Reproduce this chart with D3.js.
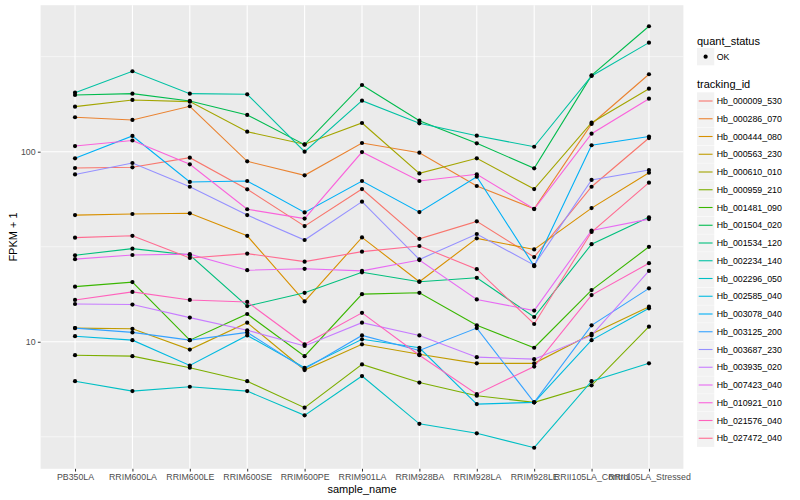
<!DOCTYPE html>
<html><head><meta charset="utf-8">
<script src="https://cdn.jsdelivr.net/npm/d3@7"></script>
<style>
body{margin:0;background:#fff}
svg{display:block}
text{font-family:"Liberation Sans",Arial,Helvetica,sans-serif}
</style>
</head><body>
<svg id="chart" width="800" height="500"></svg>
<script>
// ---------- data ----------
const samples = ["PB350LA","RRIM600LA","RRIM600LE","RRIM600SE","RRIM600PE","RRIM901LA","RRIM928BA","RRIM928LA","RRIM928LE","RRII105LA_Control","RRII105LA_Stressed"];
const trackingIds = ["Hb_000009_530","Hb_000286_070","Hb_000444_080","Hb_000563_230","Hb_000610_010","Hb_000959_210","Hb_001481_090","Hb_001504_020","Hb_001534_120","Hb_002234_140","Hb_002296_050","Hb_002585_040","Hb_003078_040","Hb_003125_200","Hb_003687_230","Hb_003935_020","Hb_007423_040","Hb_010921_010","Hb_021576_040","Hb_027472_040"];
const quantStatus = ["OK"];
const yMajorTicks = [10, 100];
const yMajorLabels = ["10", "100"];
const yMinorTicks = [3.1623, 31.623, 316.23];

const hb000009_530 = [82.1, 82.8, 93.0, 63.4, 40.6, 63.6, 34.8, 43.0, 27.9, 65.4, 118];
const hb000286_070 = [151.8, 146.9, 173.4, 89.0, 75.1, 111.1, 98.8, 66.0, 50.1, 139.9, 255.5];
const hb000444_080 = [46.4, 47.0, 47.4, 36.1, 16.3, 35.4, 20.7, 35.0, 30.6, 50.5, 77.5];
const hb000563_230 = [11.8, 11.7, 9.1, 12.6, 7.1, 9.7, 8.6, 7.7, 7.7, 11.0, 15.3];
const hb000610_010 = [172.6, 187.2, 183.4, 127.4, 109.4, 141.6, 76.9, 92.3, 63.6, 142.1, 214.6];
const hb000959_210 = [8.5, 8.4, 7.3, 6.2, 4.5, 7.6, 6.1, 5.2, 4.8, 5.9, 12.0];
const hb001481_090 = [19.5, 20.6, 10.2, 14.0, 8.4, 17.8, 18.1, 12.2, 9.3, 18.7, 31.6];
const hb001504_020 = [198.8, 202, 184.9, 156.1, 108.9, 224.4, 145.6, 110.7, 81.8, 252, 457];
const hb001534_120 = [28.5, 30.9, 28.6, 15.4, 18.1, 23.2, 20.7, 21.7, 13.5, 32.6, 45.2];
const hb002234_140 = [204.5, 265, 202, 200.5, 100, 185.5, 141, 121.4, 106.2, 250.3, 374.8];
const hb002296_050 = [6.2, 5.5, 5.8, 5.5, 4.1, 6.6, 3.7, 3.3, 2.77, 6.2, 7.7];
const hb002585_040 = [10.7, 10.2, 7.5, 10.8, 7.3, 10.3, 9.3, 4.7, 4.8, 10.2, 15.0];
const hb003078_040 = [92.3, 121, 69.3, 70.1, 47.9, 70.1, 48.1, 73.9, 25.0, 108.1, 120.2];
const hb003125_200 = [11.8, 11.2, 10.2, 11.2, 7.2, 10.8, 9.0, 11.8, 4.8, 12.2, 19.1];
const hb003687_230 = [75.9, 87.2, 65.4, 46.4, 34.3, 54.6, 27.1, 36.9, 25.3, 71.0, 80.1];
const hb003935_020 = [15.8, 15.7, 13.4, 11.5, 9.5, 12.6, 10.8, 8.3, 8.1, 10.8, 23.6];
const hb007423_040 = [27.2, 28.6, 28.9, 23.8, 24.2, 23.6, 26.9, 16.7, 14.6, 38.5, 44.2];
const hb010921_010 = [107.1, 114.5, 85.8, 49.8, 44.5, 99.6, 70.1, 76.1, 49.9, 124.4, 190.1];
const hb021576_040 = [16.6, 18.3, 16.6, 16.2, 9.7, 14.2, 8.5, 5.3, 7.4, 17.6, 25.9];
const hb027472_040 = [35.3, 36.1, 27.6, 29.1, 26.4, 29.8, 31.9, 24.1, 12.4, 37.8, 68.7];

const seriesValues = [hb000009_530, hb000286_070, hb000444_080, hb000563_230, hb000610_010, hb000959_210, hb001481_090, hb001504_020, hb001534_120, hb002234_140, hb002296_050, hb002585_040, hb003078_040, hb003125_200, hb003687_230, hb003935_020, hb007423_040, hb010921_010, hb021576_040, hb027472_040];

// ggplot2 hue palette (20 levels)
const palette = ["#F8766D","#EA8331","#D89000","#C09B00","#A3A500","#7CAE00","#39B600","#00BB4E","#00BF7D","#00C1A3","#00BFC4","#00BAE0","#00B0F6","#35A2FF","#9590FF","#C77CFF","#E76BF3","#FA62DB","#FF62BC","#FF6C91"];

// ---------- layout ----------
const panel = {left: 40.6, right: 683.4, top: 5.2, bottom: 468.8};
const svg = d3.select("#chart");
svg.append("rect").attr("width", 800).attr("height", 500).attr("fill", "#fff");

const series = trackingIds.map((id, i) => ({
  id, color: palette[i],
  points: samples.map((s, j) => ({sample: s, value: seriesValues[i][j]}))
}));

const x = d3.scalePoint().domain(samples).range([panel.left, panel.right]).padding(0.6);

const allVals = seriesValues.flat();
const lmin = Math.log10(d3.min(allVals)), lmax = Math.log10(d3.max(allVals));
const ex = (lmax - lmin) * 0.05;
const y = d3.scaleLog().domain([Math.pow(10, lmin - ex), Math.pow(10, lmax + ex)]).range([panel.bottom, panel.top]);

// panel background
svg.append("rect").attr("x", panel.left).attr("y", panel.top)
  .attr("width", panel.right - panel.left).attr("height", panel.bottom - panel.top)
  .attr("fill", "#EBEBEB");

const grid = svg.append("g");
grid.selectAll("line.minor").data(yMinorTicks.filter(v => v > y.domain()[0] && v < y.domain()[1])).join("line")
  .attr("x1", panel.left).attr("x2", panel.right)
  .attr("y1", d => y(d)).attr("y2", d => y(d))
  .attr("stroke", "#fff").attr("stroke-width", 0.55);
grid.selectAll("line.majory").data(yMajorTicks).join("line")
  .attr("x1", panel.left).attr("x2", panel.right)
  .attr("y1", d => y(d)).attr("y2", d => y(d))
  .attr("stroke", "#fff").attr("stroke-width", 1.1);
grid.selectAll("line.majorx").data(samples).join("line")
  .attr("x1", d => x(d)).attr("x2", d => x(d))
  .attr("y1", panel.top).attr("y2", panel.bottom)
  .attr("stroke", "#fff").attr("stroke-width", 1.1);

// lines
const line = d3.line().x(d => x(d.sample)).y(d => y(d.value));
const lines = svg.append("g");
lines.selectAll("path").data(series).join("path")
  .attr("d", d => line(d.points))
  .attr("fill", "none").attr("stroke", d => d.color).attr("stroke-width", 1.1);

// points
const pts = svg.append("g");
series.forEach(s => {
  pts.selectAll(null).data(s.points).join("circle")
    .attr("cx", d => x(d.sample)).attr("cy", d => y(d.value))
    .attr("r", 2.1).attr("fill", "#000");
});

// axes
const xAxis = d3.axisBottom(x).tickSize(2.75).tickPadding(2.5);
const gx = svg.append("g").attr("transform", `translate(0,${panel.bottom})`).call(xAxis);
gx.select(".domain").remove();
gx.selectAll(".tick line").attr("stroke", "#333333");
gx.selectAll(".tick text").attr("fill", "#4D4D4D").attr("font-size", 8.8)
  .attr("font-family", "'Liberation Sans',Arial,sans-serif");

const yAxis = d3.axisLeft(y).tickValues(yMajorTicks).tickFormat((d, i) => yMajorLabels[i]).tickSize(2.75).tickPadding(2.2);
const gy = svg.append("g").attr("transform", `translate(${panel.left},0)`).call(yAxis);
gy.select(".domain").remove();
gy.selectAll(".tick line").attr("stroke", "#333333");
gy.selectAll(".tick text").attr("fill", "#4D4D4D").attr("font-size", 8.8)
  .attr("font-family", "'Liberation Sans',Arial,sans-serif");

// axis titles
svg.append("text").attr("x", (panel.left + panel.right) / 2).attr("y", 492.5)
  .attr("text-anchor", "middle").attr("font-size", 11).attr("fill", "#000").text("sample_name");
svg.append("text").attr("transform", `translate(17,${(panel.top + panel.bottom) / 2}) rotate(-90)`)
  .attr("text-anchor", "middle").attr("font-size", 11).attr("fill", "#000").text("FPKM + 1");

// legend
const lg = svg.append("g");
const keyX = 697, keyW = 17.28;
lg.append("text").attr("x", keyX).attr("y", 44.7).attr("font-size", 11).attr("fill", "#000").text("quant_status");
lg.selectAll("rect.qs").data(quantStatus).join("rect")
  .attr("x", keyX).attr("y", (d, i) => 56.7 - keyW / 2 + i * 17.75)
  .attr("width", keyW).attr("height", keyW).attr("fill", "#F2F2F2");
lg.selectAll("circle.qs").data(quantStatus).join("circle")
  .attr("cx", keyX + keyW / 2).attr("cy", (d, i) => 56.7 + i * 17.75)
  .attr("r", 2.1).attr("fill", "#000");
lg.selectAll("text.qs").data(quantStatus).join("text")
  .attr("x", keyX + keyW + 2.5).attr("y", (d, i) => 56.7 + i * 17.75)
  .attr("dy", "0.35em").attr("font-size", 8.8).attr("fill", "#000").text(d => d);

lg.append("text").attr("x", keyX).attr("y", 88).attr("font-size", 11).attr("fill", "#000").text("tracking_id");
const keys = lg.selectAll("g.key").data(series).join("g")
  .attr("transform", (d, i) => `translate(${keyX},${101 + i * 17.75})`);
keys.append("rect").attr("x", 0).attr("y", -keyW / 2).attr("width", keyW).attr("height", keyW).attr("fill", "#F2F2F2");
keys.append("line").attr("x1", 1.7).attr("x2", keyW - 1.7).attr("y1", 0).attr("y2", 0)
  .attr("stroke", d => d.color).attr("stroke-width", 1.1);
keys.append("text").attr("x", keyW + 2.5).attr("y", 0).attr("dy", "0.35em")
  .attr("font-size", 8.8).attr("fill", "#000").text(d => d.id);
</script>
</body></html>
